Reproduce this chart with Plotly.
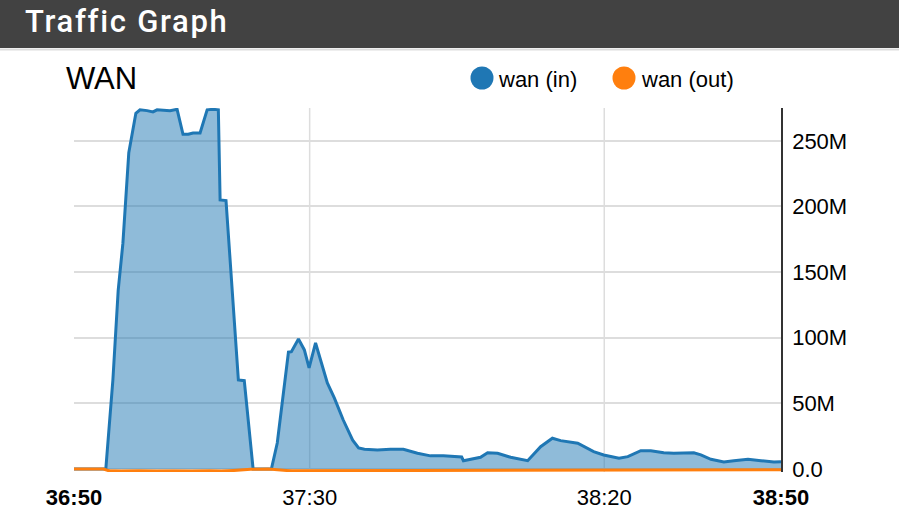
import plotly.graph_objects as go

# seconds after 36:50 and throughput in Mbit/s
t_in = [0, 5.4, 6.6, 7.5, 8.3, 9.3, 10.5, 11.2, 12.4, 13.4, 14.1, 15.3, 16.3, 17.5,
        18.5, 19.4, 20.2, 21.4, 22.6, 23.6, 24.5, 24.8, 25.8, 27.9, 28.9, 30.4,
        33.5, 34.5, 36.4, 36.9, 38.1, 39.1, 39.9, 41.0, 43.0, 44.2, 45.7, 47.3,
        48.3, 49.3, 51.5, 53.7, 55.9, 58.3, 60.5, 62.7, 65.3, 65.8, 66.1, 69.0,
        70.2, 71.9, 74.1, 77.0, 79.2, 81.2, 82.6, 85.5, 88.2, 89.9, 92.5, 94.0,
        96.2, 97.9, 100.1, 101.8, 105.2, 106.4, 108.1, 110.3, 112.0, 114.4,
        116.6, 118.8, 120.0]
wan_in = [0, 0, 67.8, 136, 172, 241, 271, 273.6, 273, 272, 273.6, 273, 273, 274,
          255, 255, 256, 256, 273.6, 274, 273.6, 205, 204.5, 67.8, 67.3, 0,
          0, 19.8, 89, 89.4, 99, 90.7, 77, 96, 65.5, 54, 37.3, 22,
          16, 15, 14.5, 15, 15, 12, 10, 10, 9.4, 9.1, 6.3, 8.9,
          12.4, 12, 8.9, 6.3, 17, 23.4, 21.6, 19.6, 13.2, 10.7, 8.2, 9.4,
          13.9, 13.9, 12.4, 12, 12.4, 10.7, 7.4, 5.3, 6.3, 7.4,
          6.3, 5.3, 5.6]

t_out = [0, 5, 6, 8, 11, 14, 17, 20, 23, 25, 27, 30, 33, 34.5, 37, 42, 50, 60,
         70, 80, 90, 100, 110, 120]
wan_out = [0, 0, -1.5, -2.0, -1.6, -2.0, -1.8, -2.0, -1.6, -2.0, -1.2, -0.3, 0,
           -0.5, -1.5, -1.3, -1.2, -1.3, -1.2, -1.3, -1.2, -1.1, -1.0, -0.6]

x_ticks = [0, 40, 90, 120]
x_labels = ["<b>36:50</b>", "37:30", "38:20", "<b>38:50</b>"]
y_ticks = [0, 50, 100, 150, 200, 250]
y_labels = ["0.0", "50M", "100M", "150M", "200M", "250M"]

BLUE, ORANGE = "#1f77b4", "#ff7f0e"
SANS = "Liberation Sans, Arial, sans-serif"

# plot area in page pixels
L, R, T, B = 74, 781, 108, 472
W, H = 899, 529


def px(x):
    return (x - L) / (R - L)


def py(y):
    return (B - y) / (B - T)


fig = go.Figure()
fig.add_trace(go.Scatter(
    x=t_in, y=wan_in, name="wan (in)", mode="lines", fill="tozeroy",
    line=dict(color=BLUE, width=3), fillcolor="rgba(31,119,180,0.5)",
    showlegend=False))
fig.add_trace(go.Scatter(
    x=t_out, y=wan_out, name="wan (out)", mode="lines", fill="tozeroy",
    line=dict(color=ORANGE, width=3), fillcolor="rgba(255,127,14,0.5)",
    showlegend=False))

for xv in (40, 90):
    fig.add_vline(x=xv, line=dict(color="#dddddd", width=1.5), layer="below")

shapes = [
    # header bar
    dict(type="rect", xref="paper", yref="paper", x0=px(0), x1=px(W),
         y0=py(48), y1=py(0), fillcolor="#424242", line=dict(width=0)),
    dict(type="line", xref="paper", yref="paper", x0=px(0), x1=px(W),
         y0=py(49.5), y1=py(49.5), line=dict(color="#dddddd", width=2)),
]
for cx, color in ((482, BLUE), (624, ORANGE)):
    shapes.append(dict(type="circle", xref="paper", yref="paper",
                       x0=px(cx - 11.5), x1=px(cx + 11.5),
                       y0=py(78 + 11.5), y1=py(78 - 11.5),
                       fillcolor=color, line=dict(width=0)))
fig.update_layout(shapes=list(fig.layout.shapes) + shapes)

fig.add_annotation(x=px(35), y=py(22), xref="paper", yref="paper",
                   xanchor="left", yanchor="middle", showarrow=False,
                   text="Traffic Graph",
                   font=dict(family="Roboto", size=31, color="white", weight=500))
fig.add_annotation(x=px(64), y=py(78), xref="paper", yref="paper",
                   xanchor="left", yanchor="middle", showarrow=False,
                   text="WAN", font=dict(family=SANS, size=31, color="black"))
for tx, label in ((496, "wan (in)"), (639, "wan (out)")):
    fig.add_annotation(x=px(tx), y=py(79), xref="paper", yref="paper",
                       xanchor="left", yanchor="middle", showarrow=False,
                       text=label, font=dict(family=SANS, size=22, color="black"))

fig.update_layout(
    width=W, height=H, paper_bgcolor="white", plot_bgcolor="white",
    margin=dict(l=L, r=W - R, t=T, b=H - B),
    font=dict(family=SANS, size=22, color="black"),
    showlegend=False,
    xaxis=dict(range=[0, 120], tickvals=x_ticks, ticktext=x_labels,
               showgrid=False, zeroline=False, ticks="", showline=False,
               ticklabelstandoff=10),
    yaxis=dict(range=[-2.3, 275], side="right", tickvals=y_ticks,
               ticktext=y_labels, showgrid=True, gridcolor="#dddddd",
               gridwidth=1.5, zeroline=False, showline=True,
               linecolor="#333333", linewidth=1.5, ticks="",
               ticklabelstandoff=5),
)

# drop the browser's default body margin so the figure sits at the page origin,
# and give the header title its letter spacing
POST = """
document.body.style.margin='0';
document.body.style.overflow='hidden';
document.querySelectorAll('text.annotation-text').forEach(function(e){
  if (e.textContent === 'Traffic Graph') { e.style.letterSpacing = '1.7px'; }
});
"""
fig.write_html("out.html", config={"displayModeBar": False}, post_script=POST)
